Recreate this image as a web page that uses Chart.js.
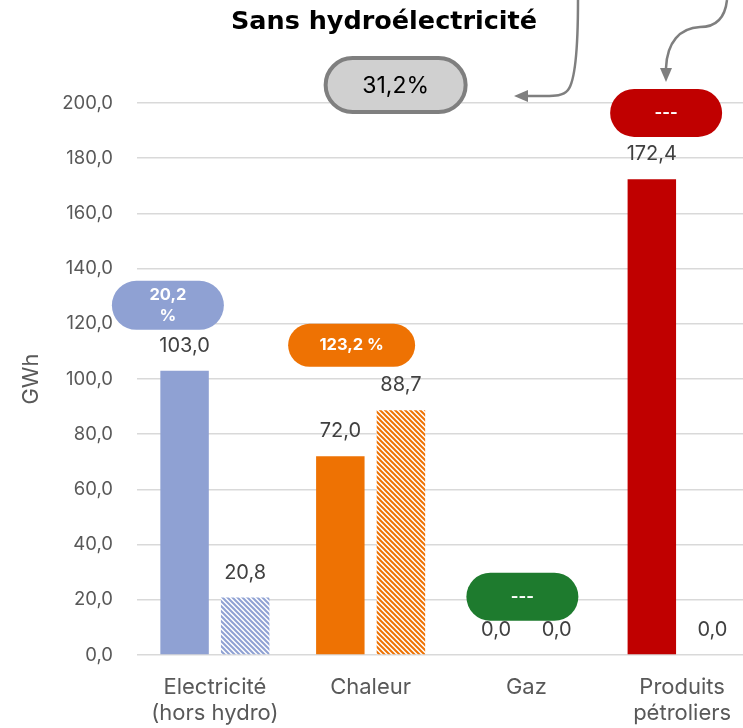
<!DOCTYPE html>
<html>
<head>
<meta charset="utf-8">
<script src="https://cdn.jsdelivr.net/npm/chart.js"></script>
<style>
  html, body { margin: 0; padding: 0; background: #fff; overflow: hidden; }
</style>
</head>
<body>
<canvas id="myChart" width="760" height="728"></canvas>
<script>
// data
var categories = [["Electricité", "(hors hydro)"], "Chaleur", "Gaz", ["Produits", "pétroliers"]];
var solidValues = [103.0, 72.0, 0.0, 172.4];
var hatchedValues = [20.8, 88.7, 0.0, 0.0];
var yMin = 0, yMax = 200, yStep = 20;
var badgeTexts = [["20,2", "%"], ["123,2 %"], ["---"], ["---"]];
var totalText = "31,2%";
var titleText = "Sans hydroélectricité";

var colors = ["#8FA1D3", "#EE7203", "#1E7B2E", "#C00000"];
var barColors = ["#8FA1D3", "#EE7203", "#1E7B2E", "#C00000"];

function fmt(v) {
  return v.toFixed(1).replace(".", ",");
}

function hatch(color) {
  var c = document.createElement("canvas");
  c.width = 5; c.height = 5;
  var g = c.getContext("2d");
  g.fillStyle = "#fff";
  g.fillRect(0, 0, 5, 5);
  g.strokeStyle = color;
  g.lineWidth = 2;
  g.beginPath();
  g.moveTo(0, 0); g.lineTo(5, 5);
  g.moveTo(-1, 4); g.lineTo(1, 6);
  g.moveTo(4, -1); g.lineTo(6, 1);
  g.stroke();
  return g.createPattern(c, "repeat");
}

// badge placement (annotation layout, not data)
var badgeLayout = [
  { dx: -47, y: 126.7, w: 112, h: 49 },
  { dx: -19, y: 112.2, w: 127, h: 43 },
  { dx: -4, y: 21.1, w: 112, h: 48 },
  { dx: -16, y: 196.4, w: 112, h: 48 }
];

var extras = {
  id: "extras",
  afterDatasetsDraw: function (chart) {
    var ctx = chart.ctx;
    ctx.save();
    ctx.font = "20px Inter";
    ctx.fillStyle = "#404040";
    ctx.textAlign = "center";
    ctx.textBaseline = "middle";
    chart.data.datasets.forEach(function (ds, di) {
      chart.getDatasetMeta(di).data.forEach(function (el, i) {
        ctx.fillText(fmt(ds.data[i]), el.x, el.y - 25);
      });
    });
    ctx.restore();
  },
  afterDraw: function (chart) {
    var ctx = chart.ctx;
    var xs = chart.scales.x, ys = chart.scales.y;
    ctx.save();

    // badges
    badgeTexts.forEach(function (lines, i) {
      var b = badgeLayout[i];
      var cx = xs.getPixelForValue(i) + b.dx;
      var cy = ys.getPixelForValue(b.y);
      ctx.beginPath();
      ctx.roundRect(cx - b.w / 2, cy - b.h / 2, b.w, b.h, b.h / 2);
      ctx.fillStyle = colors[i];
      ctx.fill();
      ctx.fillStyle = "#fff";
      ctx.font = "bold 16.5px Inter";
      ctx.textAlign = "center";
      ctx.textBaseline = "middle";
      var lh = 21;
      lines.forEach(function (t, k) {
        ctx.fillText(t, cx, cy + (k - (lines.length - 1) / 2) * lh);
      });
    });

    // total box
    var tx = xs.getPixelForValue(1) + 25, ty = ys.getPixelForValue(206.5);
    ctx.beginPath();
    ctx.roundRect(tx - 70, ty - 27, 140, 54, 27);
    ctx.fillStyle = "#D0D0D0";
    ctx.fill();
    ctx.lineWidth = 4;
    ctx.strokeStyle = "#7F7F7F";
    ctx.stroke();
    ctx.fillStyle = "#000";
    ctx.font = "23px Inter";
    ctx.textAlign = "center";
    ctx.textBaseline = "middle";
    ctx.fillText(totalText, tx, ty + 1);

    // title
    ctx.font = "bold 25.5px 'DejaVu Sans'";
    ctx.fillText(titleText, 384, 22);

    // arrows
    ctx.strokeStyle = "#7F7F7F";
    ctx.fillStyle = "#7F7F7F";
    ctx.lineWidth = 2.5;
    ctx.beginPath();
    ctx.moveTo(578, 0);
    ctx.bezierCurveTo(578, 40, 576, 80, 568, 90);
    ctx.bezierCurveTo(563, 96, 555, 96, 545, 96);
    ctx.lineTo(526, 96);
    ctx.stroke();
    ctx.beginPath();
    ctx.moveTo(514, 96);
    ctx.lineTo(528, 90);
    ctx.lineTo(528, 102);
    ctx.closePath();
    ctx.fill();

    ctx.beginPath();
    ctx.moveTo(727, 0);
    ctx.bezierCurveTo(725, 18, 716, 27, 700, 27);
    ctx.bezierCurveTo(680, 28, 667, 42, 666, 68);
    ctx.stroke();
    ctx.beginPath();
    ctx.moveTo(666, 82);
    ctx.lineTo(660, 68);
    ctx.lineTo(672, 68);
    ctx.closePath();
    ctx.fill();

    ctx.restore();
  }
};

var ctx = document.getElementById("myChart").getContext("2d");
var myChart = new Chart(ctx, {
  type: "bar",
  data: {
    labels: categories,
    datasets: [
      {
        data: solidValues,
        backgroundColor: barColors,
        categoryPercentage: 0.778,
        barPercentage: 0.8,
      },
      {
        data: hatchedValues,
        backgroundColor: barColors.map(hatch),
        categoryPercentage: 0.778,
        barPercentage: 0.8,
      },
    ],
  },
  options: {
    responsive: false,
    animation: false,
    layout: { padding: { top: 103, left: 0, right: 0, bottom: 0 } },
    scales: {
      x: {
        grid: { display: false, drawTicks: false },
        border: { display: false },
        ticks: {
          color: "#595959",
          font: { family: "Inter", size: 22, lineHeight: 1.15 },
          padding: 20,
          maxRotation: 0,
        },
        afterFit: function (s) { s.height = 73; },
      },
      y: {
        min: yMin,
        max: yMax,
        ticks: {
          stepSize: yStep,
          color: "#595959",
          font: { family: "Inter", size: 18.5 },
          padding: 24,
          callback: function (v) { return fmt(v); },
        },
        grid: { color: "#D9D9D9", lineWidth: 1.5, drawTicks: false },
        border: { display: false },
        title: {
          display: true,
          text: "GWh",
          color: "#595959",
          font: { family: "Inter", size: 22 },
          padding: { top: 18, bottom: 0 },
        },
        afterFit: function (s) { s.width = 137; },
      },
    },
    plugins: {
      legend: { display: false },
      tooltip: { enabled: false },
    },
  },
  plugins: [extras],
});
</script>
</body>
</html>
